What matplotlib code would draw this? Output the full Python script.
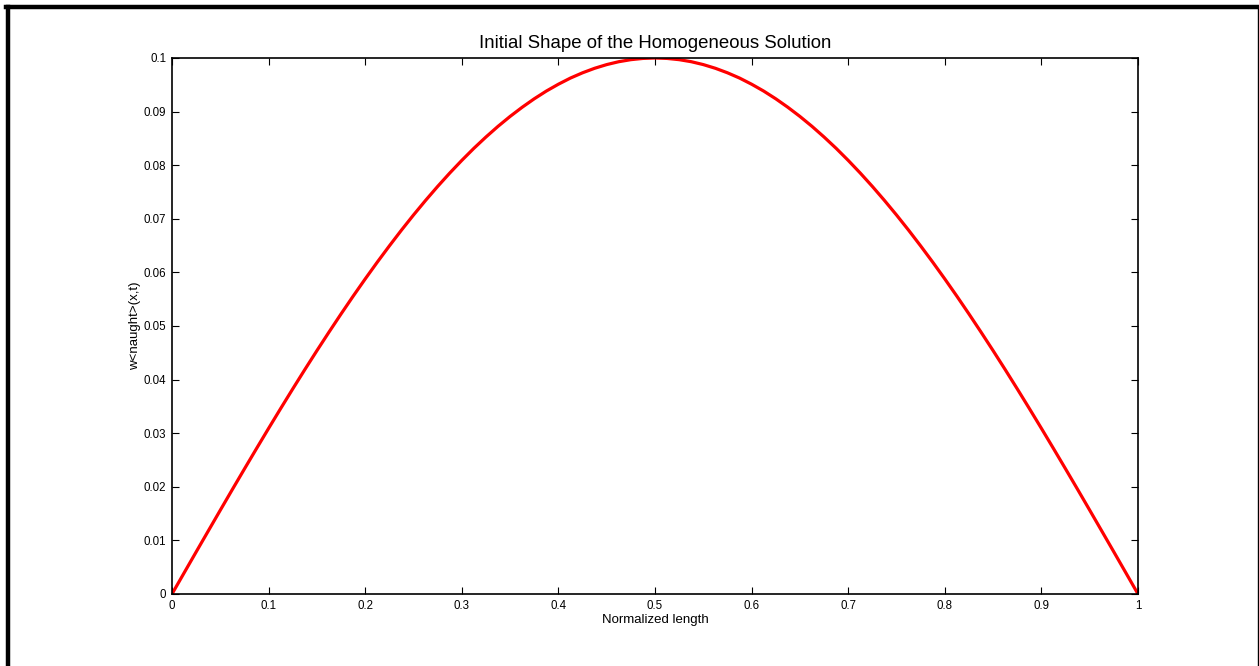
import matplotlib
matplotlib.use("Agg")
import matplotlib.pyplot as plt
from matplotlib.lines import Line2D

plt.rcParams['font.family'] = ['Liberation Sans', 'DejaVu Sans']

# Values
x_values = [0.0000, 0.0125, 0.0250, 0.0375, 0.0500, 0.0625, 0.0750, 0.0875, 0.1000, 0.1125,
            0.1250, 0.1375, 0.1500, 0.1625, 0.1750, 0.1875, 0.2000, 0.2125, 0.2250, 0.2375,
            0.2500, 0.2625, 0.2750, 0.2875, 0.3000, 0.3125, 0.3250, 0.3375, 0.3500, 0.3625,
            0.3750, 0.3875, 0.4000, 0.4125, 0.4250, 0.4375, 0.4500, 0.4625, 0.4750, 0.4875,
            0.5000, 0.5125, 0.5250, 0.5375, 0.5500, 0.5625, 0.5750, 0.5875, 0.6000, 0.6125,
            0.6250, 0.6375, 0.6500, 0.6625, 0.6750, 0.6875, 0.7000, 0.7125, 0.7250, 0.7375,
            0.7500, 0.7625, 0.7750, 0.7875, 0.8000, 0.8125, 0.8250, 0.8375, 0.8500, 0.8625,
            0.8750, 0.8875, 0.9000, 0.9125, 0.9250, 0.9375, 0.9500, 0.9625, 0.9750, 0.9875, 1.0000]
w_values = [0.00000, 0.00393, 0.00785, 0.01175, 0.01564, 0.01951, 0.02334, 0.02714, 0.03090, 0.03461,
            0.03827, 0.04187, 0.04540, 0.04886, 0.05225, 0.05556, 0.05878, 0.06191, 0.06494, 0.06788,
            0.07071, 0.07343, 0.07604, 0.07853, 0.08090, 0.08315, 0.08526, 0.08725, 0.08910, 0.09081,
            0.09239, 0.09383, 0.09511, 0.09626, 0.09724, 0.09808, 0.09877, 0.09931, 0.09969, 0.09992,
            0.10000, 0.09992, 0.09969, 0.09931, 0.09877, 0.09808, 0.09724, 0.09626, 0.09511, 0.09383,
            0.09239, 0.09081, 0.08910, 0.08725, 0.08526, 0.08315, 0.08090, 0.07853, 0.07604, 0.07343,
            0.07071, 0.06788, 0.06494, 0.06191, 0.05878, 0.05556, 0.05225, 0.04886, 0.04540, 0.04187,
            0.03827, 0.03461, 0.03090, 0.02714, 0.02334, 0.01951, 0.01564, 0.01175, 0.00785, 0.00393, 0.00000]

x_ticks = [0, 0.1, 0.2, 0.3, 0.4, 0.5, 0.6, 0.7, 0.8, 0.9, 1]
x_tick_labels = ["0", "0.1", "0.2", "0.3", "0.4", "0.5", "0.6", "0.7", "0.8", "0.9", "1"]
y_ticks = [0, 0.01, 0.02, 0.03, 0.04, 0.05, 0.06, 0.07, 0.08, 0.09, 0.1]
y_tick_labels = ["0", "0.01", "0.02", "0.03", "0.04", "0.05", "0.06", "0.07", "0.08", "0.09", "0.1"]

title = "Initial Shape of the Homogeneous Solution"
x_label = "Normalized length"
y_label = "w<naught>(x,t)"

fig = plt.figure(figsize=(12.59, 6.66), dpi=100)
fig.patch.set_facecolor("white")
ax = fig.add_axes([172/1259, 72/666, 966/1259, 536/666])

ax.plot(x_values, w_values, color="#ff0000", linewidth=2.3, solid_capstyle="round")

ax.set_xlim(0, 1)
ax.set_ylim(0, 0.1)
ax.set_xticks(x_ticks)
ax.set_xticklabels(x_tick_labels)
ax.set_yticks(y_ticks)
ax.set_yticklabels(y_tick_labels)
ax.tick_params(direction="in", length=5, width=0.8, top=True, right=True,
               labelsize=8.3, colors="#000000", pad=4)
for sp in ax.spines.values():
    sp.set_linewidth(1.2)
    sp.set_color("#000000")

ax.set_title(title, fontsize=13.4, pad=7)
ax.set_xlabel(x_label, fontsize=9.5, labelpad=2)
ax.set_ylabel(y_label, fontsize=9.5, labelpad=2)

# Outer frame of the figure
W, H = 1259, 666
fig.add_artist(Line2D([8/W, 8/W], [0, 1 - 7/H], transform=fig.transFigure, color="black", linewidth=3.2))
fig.add_artist(Line2D([6/W, 1258/W], [1 - 7/H, 1 - 7/H], transform=fig.transFigure, color="black", linewidth=3.2))
fig.add_artist(Line2D([1257.5/W, 1257.5/W], [0, 1 - 7/H], transform=fig.transFigure, color="black", linewidth=1.0))

fig.savefig("out.png", dpi=100)
